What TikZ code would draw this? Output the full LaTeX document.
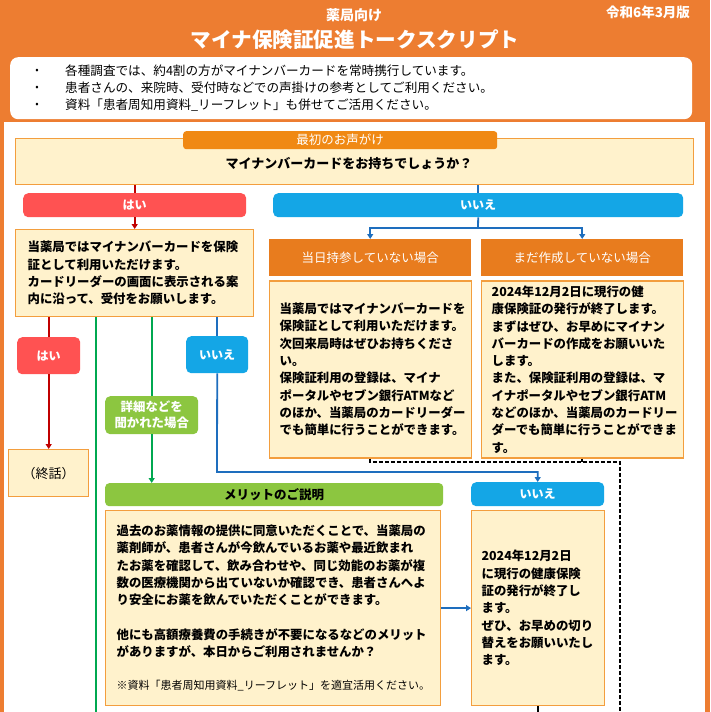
\documentclass[tikz,border=0pt]{standalone}
\usepackage{fontspec}
\setmainfont{Noto Sans CJK JP}
\definecolor{headorange}{RGB}{237,125,49}
\definecolor{taborange}{RGB}{232,124,30}
\definecolor{firstorange}{RGB}{240,137,20}
\definecolor{cream}{RGB}{255,242,204}
\definecolor{creamline}{RGB}{243,158,62}
\definecolor{yesred}{RGB}{255,82,82}
\definecolor{noblue}{RGB}{20,166,230}
\definecolor{askgreen}{RGB}{140,198,64}
\definecolor{redln}{RGB}{192,0,0}
\definecolor{blueln}{RGB}{30,110,190}
\definecolor{greenln}{RGB}{0,168,80}
\usetikzlibrary{arrows.meta}
\usetikzlibrary{positioning}
\tikzset{
  cardbox/.style={draw=creamline, fill=cream, line width=1.2pt, rectangle, inner sep=0pt, anchor=north west},
  talk/.style={font=\bfseries\fontsize{12.4}{17.3}\selectfont, align=left},
  yesbar/.style={fill=yesred, rounded corners=5pt, anchor=north west, inner sep=0pt, text=white, font=\bfseries\fontsize{12}{14}\selectfont},
  nobar/.style={fill=noblue, rounded corners=5pt, anchor=north west, inner sep=0pt, text=white, font=\bfseries\fontsize{12}{14}\selectfont},
  casetab/.style={fill=taborange, anchor=north west, inner sep=0pt, text=white, font=\fontsize{12.5}{14}\selectfont},
  redpath/.style={draw=redln, line width=1.8pt},
  bluepath/.style={draw=blueln, line width=1.8pt},
  greenpath/.style={draw=greenln, line width=1.8pt},
}

\begin{document}
\begin{tikzpicture}[x=1pt, y=-1pt, >={Triangle[length=5pt, width=6pt]}]
  \useasboundingbox (0,0) rectangle (710,712);

  % frame and header
  \fill [headorange] (0,0) rectangle (710,712);
  \fill [white] (4,122) rectangle (705,712);

  \node [text=white, font=\bfseries\fontsize{14}{16}\selectfont] at (354,15) (kind) {薬局向け};
  \node [text=white, font=\bfseries\fontsize{20.6}{24}\selectfont] at (355,40) (title) {マイナ保険証促進トークスクリプト};
  \node [text=white, font=\bfseries\fontsize{13.5}{16}\selectfont] at (648,12) (edition) {令和6年3月版};

  % notes
  \node [fill=white, rounded corners=8pt, minimum width=682pt, minimum height=62pt, anchor=north west, inner sep=0pt] at (10,57) (notes) {};
  \foreach \t [count=\i] in {{各種調査では、約4割の方がマイナンバーカードを常時携行しています。},
                             {患者さんの、来院時、受付時などでの声掛けの参考としてご利用ください。},
                             {資料「患者周知用資料\_リーフレット」も併せてご活用ください。}} {
    \node [font=\fontsize{10}{12}\selectfont] at (37,54+17*\i) (dot\i) {•};
    \node [anchor=west, inner sep=0pt, font=\fontsize{12.6}{14}\selectfont] at (65,54+17*\i) (note\i) {\t};
  }

  % first question
  \node [cardbox, minimum width=678pt, minimum height=46pt] at (15,138) (ask) {};
  \node [fill=firstorange, rounded corners=3pt, anchor=north west, inner sep=0pt, minimum width=314pt, minimum height=18pt,
    text=white, font=\fontsize{12.5}{14}\selectfont] at (183,131) (first) {最初のお声がけ};
  \node [font=\bfseries\fontsize{13}{15}\selectfont] at (349,164) (asktext) {マイナンバーカードをお持ちでしょうか？};

  \node [yesbar, minimum width=223pt, minimum height=24pt] at (23,193) (yes) {はい};
  \node [nobar, minimum width=410pt, minimum height=24pt] at (273,193) (no) {いいえ};

  % has the card
  \node [cardbox, talk, text width=214pt, minimum width=238pt, minimum height=87pt] at (15,229) (store)
    {当薬局ではマイナンバーカードを保険\\証として利用いただけます。\\カードリーダーの画面に表示される案\\内に沿って、受付をお願いします。};

  \node [yesbar, minimum width=63pt, minimum height=37pt] at (17,337) (yes2) {はい};
  \node [nobar, minimum width=62pt, minimum height=37pt] at (186,336) (no2) {いいえ};
  \node [fill=askgreen, rounded corners=5pt, anchor=north west, inner sep=0pt, minimum width=93pt, minimum height=38pt,
    text=white, align=center, font=\bfseries\fontsize{12.4}{16}\selectfont] at (105,396) (asked) {詳細などを\\聞かれた場合};
  \node [cardbox, minimum width=80pt, minimum height=47pt, font=\fontsize{13}{15}\selectfont] at (8,449) (close) {（終話）};

  % no card
  \node [casetab, minimum width=202pt, minimum height=37pt] at (269,239) (forgot) {当日持参していない場合};
  \node [casetab, minimum width=202pt, minimum height=37pt] at (481,239) (nocard) {まだ作成していない場合};
  \node [cardbox, talk, text width=181pt, minimum width=202pt, minimum height=177pt, below=4pt of forgot] (forgotmsg)
    {当薬局ではマイナンバーカードを\\保険証として利用いただけます。\\次回来局時はぜひお持ちくださ\\い。\\保険証利用の登録は、マイナ\\ポータルやセブン銀行ATMなど\\のほか、当薬局のカードリーダー\\でも簡単に行うことができます。};
  \node [cardbox, talk, text width=181pt, minimum width=202pt, minimum height=177pt, below=4pt of nocard] (nocardmsg)
    {2024年12月2日に現行の健\\康保険証の発行が終了します。\\まずはぜひ、お早めにマイナン\\バーカードの作成をお願いいた\\します。\\また、保険証利用の登録は、マ\\イナポータルやセブン銀行ATM\\などのほか、当薬局のカードリー\\ダーでも簡単に行うことができま\\す。};

  % merits
  \node [fill=askgreen, rounded corners=4pt, anchor=north west, inner sep=0pt, minimum width=338pt, minimum height=23pt,
    font=\bfseries\fontsize{12.5}{14}\selectfont] at (105,483) (merit) {メリットのご説明};
  \node [cardbox, talk, text width=313pt, minimum width=335pt, minimum height=195pt] at (105,510) (meritmsg)
    {過去のお薬情報の提供に同意いただくことで、当薬局の\\薬剤師が、患者さんが今飲んでいるお薬や最近飲まれ\\たお薬を確認して、飲み合わせや、同じ効能のお薬が複\\数の医療機関から出ていないか確認でき、患者さんへよ\\り安全にお薬を飲んでいただくことができます。\\[17.3pt]他にも高額療養費の手続きが不要になるなどのメリット\\がありますが、本日からご利用されませんか？\\[16pt]{\mdseries\fontsize{11}{14}\selectfont ※資料「患者周知用資料\_リーフレット」を適宜活用ください。}};

  \node [nobar, minimum width=133pt, minimum height=24pt] at (471,482) (no3) {いいえ};
  \node [cardbox, talk, text width=113pt, minimum width=133pt, minimum height=195pt] at (471,510) (switch)
    {2024年12月2日\\に現行の健康保険\\証の発行が終了し\\ます。\\ぜひ、お早めの切り\\替えをお願いいたし\\ます。};

  % connectors: yes
  \draw [redpath] (ask.south -| yes.north) -- (yes.north);
  \draw [redpath, ->] (yes.south) -- (store.north -| yes.south);
  \draw [redpath] (store.south -| yes2.north) -- (yes2.north);
  \draw [redpath, ->] (yes2.south) -- (close.north -| yes2.south);

  % connectors: no
  \coordinate (split) at (478,228);
  \draw [bluepath] (ask.south -| no.north) -- (no.north);
  \draw [bluepath] (no.south) -- (split);
  \draw [bluepath, ->] (split) -| (forgot.north);
  \draw [bluepath, ->] (split) -| (nocard.north);
  \coordinate (turn) at (217,472);
  \draw [bluepath] (store.south -| no2.north) -- (no2.north);
  \draw [bluepath, ->] (no2.south) -- (turn) -| (no3.north);
  \draw [bluepath, ->] (meritmsg.east) -- (switch.west);

  % connectors: details
  \coordinate (greenend) at (96,712);
  \draw [greenpath] (store.south -| greenend) -- (greenend);
  \draw [greenpath] (store.south -| asked.north) -- (asked.north);
  \draw [greenpath, ->] (asked.south) -- (merit.north -| asked.south);

  % onward
  \coordinate (dashturn) at (620,462);
  \coordinate (dashend) at (620,712);
  \draw [line width=1.5pt, dash pattern=on 4pt off 2pt] (forgotmsg.south) |- (dashturn) -- (dashend);
  \draw [line width=1.5pt, dash pattern=on 4pt off 2pt] (nocardmsg.south) -- (nocardmsg.south |- dashturn);
  \draw [line width=1.5pt] (switch.south) -- (switch.south |- dashend);
\end{tikzpicture}
\end{document}
